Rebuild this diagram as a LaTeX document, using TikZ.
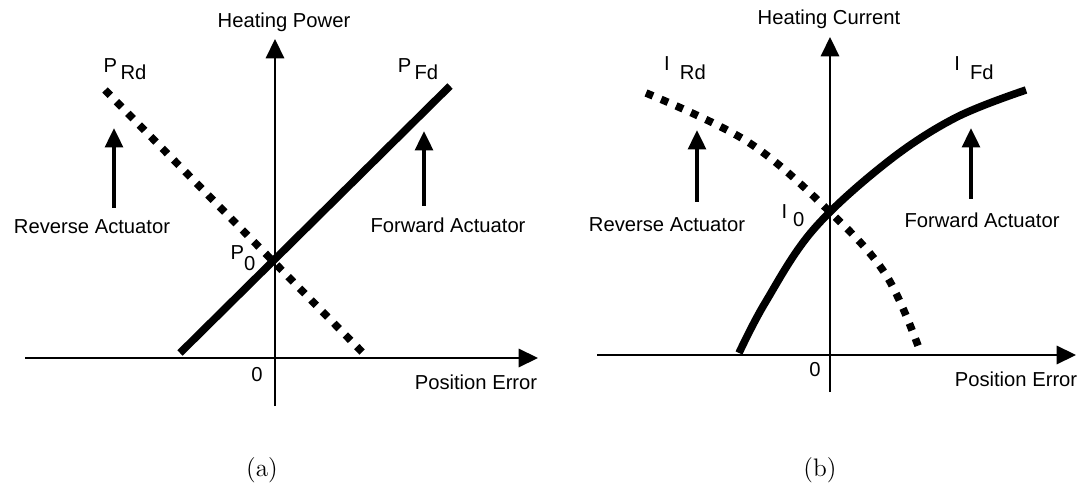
\documentclass[tikz,border=0pt]{standalone}
\usepackage{fontspec}
\newfontfamily\labelfamily{Liberation Sans}
\usetikzlibrary{arrows.meta,positioning}

\tikzset{
  axisline/.style={line width=0.9pt,-{Triangle[length=11pt,width=10.5pt]}},
  pointer/.style={line width=2.2pt,-{Triangle[length=11pt,width=10pt]}},
  fwdcurve/.style={line width=4.3pt},
  revcurve/.style={line width=4.3pt,dash pattern=on 4.3pt off 5pt},
}

\begin{document}
\begin{tikzpicture}
\tikzstyle{every node}=[font=\labelfamily\fontsize{11.5}{13}\selectfont]
\useasboundingbox (0,0) rectangle (21.66,9.90);

% (a) heating power
\coordinate (axL) at (0.50,2.74);
\coordinate (axR) at (10.76,2.74);
\coordinate (ayB) at (5.50,1.78);
\coordinate (ayT) at (5.50,9.12);
\draw [axisline] (axL) -- (axR);
\draw [axisline] (ayB) -- (ayT);
\node (powerlab) at (5.68,9.46) {Heating Power};
\node (errlabA) at (9.52,2.26) {Position Error};
\node (zeroA) at (5.14,2.40) {0};

\coordinate (pFs) at (3.60,2.84);
\coordinate (pFe) at (9.00,8.18);
\coordinate (pRs) at (2.10,8.10);
\coordinate (pRe) at (7.32,2.78);
\draw [fwdcurve] (pFs) -- (pFe);
\draw [revcurve] (pRs) -- (pRe);

\node (pRd) at (2.50,8.52) {P\,\raisebox{-4pt}{Rd}};
\node (pFd) at (8.36,8.52) {P\,\raisebox{-4pt}{Fd}};
\node (pZero) at (4.86,4.74) {P\raisebox{-6.5pt}{0}};

\node (revA) at (1.84,5.36) {Reverse Actuator};
\node (fwdA) at (8.96,5.40) {Forward Actuator};
\coordinate (revAt) at (2.28,5.74);
\coordinate (revAh) at (2.28,7.34);
\coordinate (fwdAt) at (8.48,5.78);
\coordinate (fwdAh) at (8.48,7.28);
\draw [pointer] (revAt) -- (revAh);
\draw [pointer] (fwdAt) -- (fwdAh);

\node (capA) at (5.24,0.50) {\rmfamily\fontsize{14.4}{17}\selectfont (a)};

% (b) heating current
\coordinate (bxL) at (11.94,2.80);
\coordinate (bxR) at (21.52,2.80);
\coordinate (byB) at (16.60,2.06);
\coordinate (byT) at (16.60,9.16);
\draw [axisline] (bxL) -- (bxR);
\draw [axisline] (byB) -- (byT);
\node (currentlab) at (16.58,9.52) {Heating Current};
\node (errlabB) at (20.32,2.32) {Position Error};
\node (zeroB) at (16.30,2.50) {0};

\draw [fwdcurve] plot [smooth, tension=0.6] coordinates
  {(14.78,2.84) (15.30,3.84) (16.26,5.30) (17.72,6.64) (19.10,7.54) (20.52,8.10)};
\draw [revcurve] plot [smooth, tension=0.6] coordinates
  {(12.92,8.04) (14.96,7.06) (16.60,5.66) (17.72,4.40) (18.40,2.88)};

\node (iRd) at (13.70,8.54) {I\hspace{0.5em}\raisebox{-5.5pt}{Rd}};
\node (iFd) at (19.48,8.54) {I\hspace{0.5em}\raisebox{-5.5pt}{Fd}};
\node (iZero) at (15.86,5.58) {I\hspace{0.3em}\raisebox{-4.5pt}{0}};

\node (revB) at (13.34,5.40) {Reverse Actuator};
\node (fwdB) at (19.64,5.50) {Forward Actuator};
\coordinate (revBt) at (13.94,5.86);
\coordinate (revBh) at (13.94,7.30);
\coordinate (fwdBt) at (19.42,5.92);
\coordinate (fwdBh) at (19.42,7.34);
\draw [pointer] (revBt) -- (revBh);
\draw [pointer] (fwdBt) -- (fwdBh);

\node (capB) at (16.40,0.50) {\rmfamily\fontsize{14.4}{17}\selectfont (b)};
\end{tikzpicture}
\end{document}
